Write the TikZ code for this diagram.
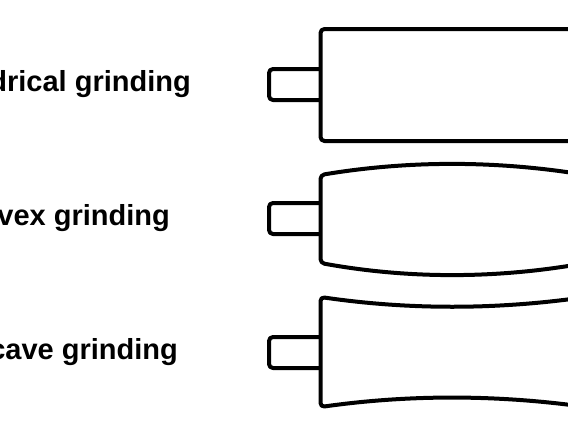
\documentclass[tikz,border=0pt]{standalone}
\usepackage{fontspec}
\setmainfont{Liberation Sans}
\begin{document}
\begin{tikzpicture}[x=1pt,y=-1pt,
    outline/.style={draw=black, line width=4pt, line join=round, rounded corners=4pt},
    lbl/.style={font=\fontsize{29}{34}\selectfont\bfseries, anchor=base east, inner sep=0pt, text=black}
  ]
    \useasboundingbox (0,0) rectangle (568,426);
    \clip (0,0) rectangle (568,426);

    % labels
    \node[lbl] (cyl) at (191,91) {drical grinding};
    \node[lbl] (vex) at (170,225) {vex grinding};
    \node[lbl] (cav) at (178,359) {cave grinding};

    % cylindrical roll
    \draw[outline] (600,29) -- (320.5,29) -- (320.5,141) -- (600,141);
    \draw[outline] (320.5,69) -- (269,69) -- (269,100) -- (320.5,100);

    % convex roll
    \draw[outline] (586,175) .. controls (497,160.3) and (409,160.3) .. (320.5,175)
      -- (320.5,263) .. controls (409,279) and (497,279) .. (586,263);
    \draw[outline] (320.5,203) -- (269,203) -- (269,234) -- (320.5,234);

    % concave roll
    \draw[outline] (586,297) .. controls (497,309.9) and (409,309.9) .. (320.5,297)
      -- (320.5,407) .. controls (409,394.5) and (497,394.5) .. (586,407);
    \draw[outline] (320.5,337) -- (269,337) -- (269,368) -- (320.5,368);
  \end{tikzpicture}
\end{document}
